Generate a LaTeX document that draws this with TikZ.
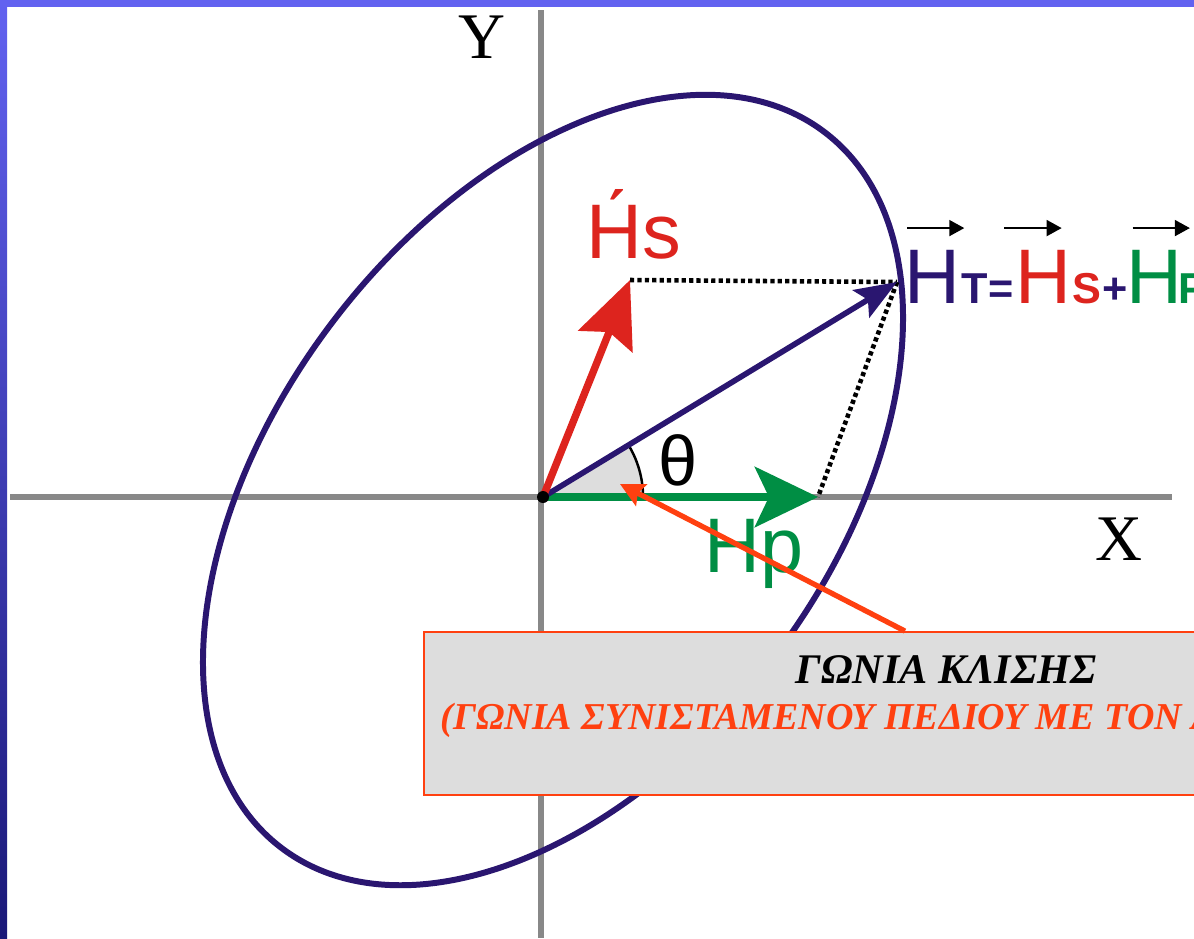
\documentclass[tikz,border=0pt]{standalone}
\usepackage{fontspec}
\setmainfont{Liberation Serif}
\setsansfont{Liberation Sans}
\usetikzlibrary{arrows.meta, angles, positioning}

\definecolor{fieldnavy}{RGB}{42,22,112}
\definecolor{fieldred}{RGB}{221,36,30}
\definecolor{fieldgreen}{RGB}{0,142,68}
\definecolor{calloutred}{RGB}{255,64,16}
\definecolor{axisgray}{RGB}{136,136,136}
\definecolor{boxgray}{RGB}{221,221,221}
\definecolor{framelight}{RGB}{98,98,240}
\definecolor{framedark}{RGB}{26,24,120}

\begin{document}
\begin{tikzpicture}[
    x=0.01cm, y=-0.01cm,
    axis/.style={line width=1.6pt, draw=axisgray},
    axislabel/.style={inner sep=0pt, font=\fontsize{18.5}{20}\selectfont},
    orbit/.style={line width=1.7pt, draw=fieldnavy},
    vlabel/.style={inner sep=0pt, anchor=base west, font=\sffamily\fontsize{22}{24}\selectfont},
    vsub/.style={inner sep=0pt, anchor=base west, font=\sffamily\bfseries\fontsize{12.3}{14}\selectfont},
    hsvec/.style={-{Stealth[length=6.6mm, width=5.8mm, inset=1mm]}, line width=2.1pt, draw=fieldred},
    htvec/.style={-{Stealth[length=4.2mm, width=3.2mm, inset=0.8mm]}, line width=1.6pt, draw=fieldnavy},
    hpvec/.style={-{Stealth[length=6.3mm, width=6mm, inset=1.4mm]}, line width=2.4pt, draw=fieldgreen},
    proj/.style={line width=1.3pt, dash pattern=on 1.2pt off 0.9pt},
    overarr/.style={-{Triangle[length=1.5mm, width=1.6mm]}, line width=0.5pt},
    dot/.style={circle, fill=black, inner sep=0pt, minimum size=1.2mm},
    callout/.style={-{Stealth[length=2.4mm, width=2.4mm, inset=0.4mm]}, line width=1.5pt, draw=calloutred},
    notebox/.style={rectangle, draw=calloutred, line width=0.5pt, fill=boxgray,
                    minimum width=10.44cm, minimum height=1.63cm},
    notetitle/.style={inner sep=0pt, font=\bfseries\itshape\fontsize{12}{14}\selectfont},
    notesub/.style={inner sep=0pt, anchor=base west, text=calloutred,
                    font=\bfseries\itshape\fontsize{10.8}{12}\selectfont},
]
\useasboundingbox (0,0) rectangle (1194,938);
\clip (0,0) rectangle (1194,938);

% slide frame
\shade[top color=framelight, bottom color=framedark] (0,0) rectangle (7,938);
\fill[framelight] (0,0) rectangle (1194,7);

% axes
\coordinate (xL) at (10,497);
\coordinate (xR) at (1172,497);
\coordinate (yT) at (541,10);
\coordinate (yB) at (541,938);
\draw[axis] (xL) -- (xR);
\draw[axis] (yT) -- (yB);
\node[axislabel] (ylab) at (482,37) {Y};
\node[axislabel] (xlab) at (1119,539) {X};

% polarisation ellipse
\draw[orbit, rotate around={52.8:(553,490)}] (553,490) ellipse [x radius=4.49cm, y radius=2.77cm];

\coordinate (o) at (543,497);
\coordinate (hsTip) at (630,280);
\coordinate (htTip) at (897,282);
\coordinate (hpTip) at (818,497);
\coordinate (angmark) at (620,484);

\pic[draw, fill=boxgray, line width=0.7pt, angle radius=1cm] {angle=hpTip--o--htTip};

\draw[proj] (hsTip) -- (htTip);
\draw[proj] (htTip) -- (hpTip);

\draw[hpvec] (o) -- (hpTip);
\draw[htvec] (o) -- (htTip);
\draw[hsvec] (o) -- (hsTip);
\node[dot] (origin) at (o) {};

\node[vlabel, text=fieldred] (hslab) at (586,258) {\'Hs};
\node[vlabel, text=fieldgreen] (hplab) at (704,572) {Hp};
\node[inner sep=0pt, font=\sffamily\fontsize{20}{22}\selectfont] (theta) at (678,460) {θ};

% H_T = H_S + H_P
\node[vlabel, text=fieldnavy] (hT) at (904,303) {H};
\node[vsub, text=fieldnavy] (subT) at (hT.base east) {T=};
\node[vlabel, text=fieldred] (hS) at (subT.base east) {H};
\node[vsub, text=fieldred] (subS) at (hS.base east) {S};
\node[vsub, text=fieldnavy] (plus) at (subS.base east) {+};
\node[vlabel, text=fieldgreen] (hP) at ([xshift=-0.03cm]plus.base east) {H};
\node[vsub, text=fieldgreen] (subP) at ([xshift=-0.05cm]hP.base east) {P};

\draw[overarr] ([xshift=0.03cm, yshift=0.21cm]hT.north west) -- ([xshift=0.03cm, yshift=0.21cm]hT.north east);
\draw[overarr] ([xshift=-0.1cm, yshift=0.21cm]hS.north west) -- ([xshift=-0.1cm, yshift=0.21cm]hS.north east);
\draw[overarr] ([xshift=0.07cm, yshift=0.21cm]hP.north west) -- ([xshift=0.07cm, yshift=0.21cm]hP.north east);

% note box
\node[notebox] (note) at (946,713.5) {};
\draw[callout] ([xshift=-0.41cm]note.north) -- (angmark);
\node[notetitle] (title) at (946,670) {ΓΩΝΙΑ ΚΛΙΣΗΣ};
\node[notesub] (subtitle) at (440,729) {(ΓΩΝΙΑ ΣΥΝΙΣΤΑΜΕΝΟΥ ΠΕΔΙΟΥ ΜΕ ΤΟΝ Α};

\end{tikzpicture}
\end{document}
